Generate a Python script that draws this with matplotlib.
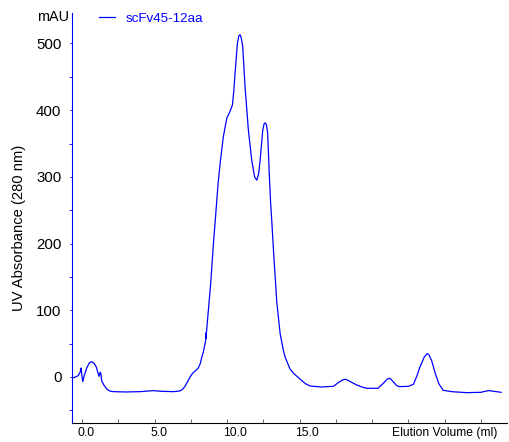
import matplotlib
matplotlib.use('Agg')
import matplotlib.pyplot as plt
import matplotlib.transforms as mtransforms
from matplotlib.ticker import MultipleLocator

plt.rcParams['font.family'] = ['Liberation Sans', 'DejaVu Sans']

# chromatogram trace (volume in ml, absorbance in mAU)
volume = [-0.71, -0.45, -0.26, -0.12, -0.07, 0.0, 0.05, 0.15, 0.32, 0.5, 0.67, 0.85,
          0.97, 1.1, 1.17, 1.25, 1.29, 1.36, 1.5, 1.7, 1.9, 2.16, 3.0, 4.0, 4.9, 5.5,
          6.3, 6.76, 6.95, 7.1, 7.3, 7.45, 7.6, 7.8, 8.0, 8.15, 8.25, 8.37, 8.48, 8.53,
          8.54, 8.545, 8.71, 8.87, 9.06, 9.24, 9.38, 9.52, 9.74, 9.98, 10.2, 10.37,
          10.47, 10.55, 10.71, 10.82, 10.9, 10.98, 11.08, 11.24, 11.47, 11.7, 11.9,
          12.05, 12.18, 12.28, 12.46, 12.56, 12.64, 12.72, 12.8, 12.9, 13.0, 13.08,
          13.2, 13.43, 13.66, 13.88, 14.0, 14.34, 14.6, 15.03, 15.4, 15.72, 16.5,
          17.33, 17.7, 18.0, 18.2, 18.5, 18.94, 19.3, 19.63, 20.4, 20.8, 21.05, 21.24,
          21.45, 21.7, 21.9, 22.5, 22.85, 23.1, 23.3, 23.6, 23.8, 23.9, 24.1, 24.35,
          24.6, 24.9, 25.5, 26.5, 27.5, 27.9, 28.1, 28.4, 28.9]
absorbance = [-2, 0, 2, 8, 13.5, 0, -7, 2, 13.5, 21, 23, 20,
              15.5, 6, 1, 7, 6, -6, -12, -18, -21, -22, -22.5, -22, -20.5, -21.5,
              -22, -21, -18, -14, -6, 0, 5, 9, 13, 20, 29, 38, 50, 55,
              66, 58, 100, 140, 200, 250, 290, 320, 360, 388, 398, 408,
              430, 455, 500, 512, 513, 508, 495, 435, 370, 325, 300,
              295, 305, 325, 370, 380, 381, 378, 365, 310, 262, 235,
              190, 112, 65, 40, 30, 12, 5, -3, -10, -13.5, -15,
              -14, -8, -4, -3.5, -7, -12, -15, -17, -17, -9, -3, -2,
              -7, -13, -14.5, -14, -11, 2, 15, 30, 35, 34, 25, 6,
              -10, -20, -22, -23.5, -23, -21, -20.5, -21.5, -23]

x_ticks = [0, 5, 10, 15]
x_labels = ['0.0', '5.0', '10.0', '15.0']
y_ticks = [0, 100, 200, 300, 400, 500]

fig = plt.figure(figsize=(5.10, 4.42), dpi=100)
ax = fig.add_axes([0.141, 0.043, 0.853, 0.928])

ax.plot(volume, absorbance, color='#0000ff', linewidth=0.9, label='scFv45-12aa')

ax.set_xlim(-0.7, 29.3)
ax.set_ylim(-69, 546)

ax.spines['top'].set_visible(False)
ax.spines['right'].set_visible(False)
ax.spines['left'].set_color('#0000ff')
ax.spines['bottom'].set_color('black')

ax.set_xticks(x_ticks)
ax.set_xticklabels(x_labels)
ax.xaxis.set_minor_locator(MultipleLocator(2.5))
ax.tick_params(axis='x', which='both', direction='in', length=3, width=0.6,
               color='#555555', labelsize=8.8, pad=3)
# labels sit to the right of their ticks in the original
offset = mtransforms.ScaledTranslation(-3 / 72, 0, fig.dpi_scale_trans)
for lab in ax.get_xticklabels():
    lab.set_horizontalalignment('left')
    lab.set_transform(lab.get_transform() + offset)

ax.set_yticks(y_ticks)
ax.yaxis.set_minor_locator(MultipleLocator(50))
ax.tick_params(axis='y', which='major', direction='out', length=1.5, width=0.6,
               color='#0000ff', labelsize=10.8, pad=6)
ax.tick_params(axis='y', which='minor', direction='out', length=2.5, width=0.6,
               color='#0000ff')

ax.set_ylabel('UV Absorbance (280 nm)', fontsize=10.6)
ax.yaxis.set_label_coords(-0.106, 0.476)

fig.text(69 / 510, 1 - 17 / 442, 'mAU', ha='right', va='center', fontsize=10.4)
fig.text(445 / 510, 1 - 433 / 442, 'Elution Volume (ml)', ha='center', va='center', fontsize=8.7)

leg = ax.legend(loc='upper left', bbox_to_anchor=(0.062, 1.0), frameon=False,
                fontsize=9.6, handlelength=1.2, handletextpad=0.8,
                borderpad=0, borderaxespad=0)
for t in leg.get_texts():
    t.set_color('#0000ff')

fig.savefig('out.png', dpi=100)
